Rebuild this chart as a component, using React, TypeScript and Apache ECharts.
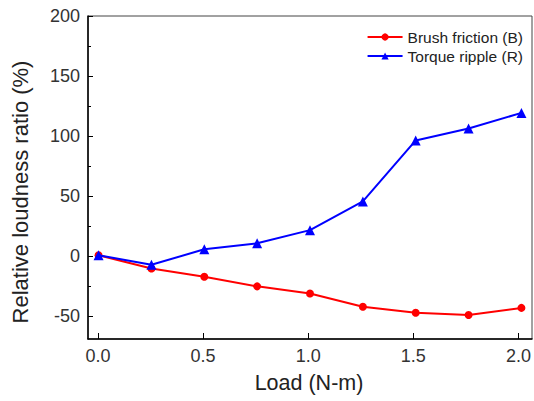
import React, { useEffect, useRef } from "react";
import * as echarts from "echarts";

const loads = [0, 0.25, 0.5, 0.75, 1.0, 1.25, 1.5, 1.75, 2.0];
const brushFriction = [0, -11, -18, -26, -32, -43, -48, -50, -44];
const torqueRipple = [0, -8, 5, 10, 21, 45, 96, 106, 119];
const seriesNames = ["Brush friction (B)", "Torque ripple (R)"];
const yTitle = "Relative loudness ratio (%)";
const xTitle = "Load (N-m)";

const FONT = "'Liberation Sans', Arial, sans-serif";

export default function App() {
  const ref = useRef<HTMLDivElement>(null);
  useEffect(() => {
    if (!ref.current) return;
    const chart = echarts.init(ref.current, undefined, { renderer: "svg" });
    const hiddenAxis = { show: false };
    const option: any = {
      animation: false,
      backgroundColor: "#ffffff",
      textStyle: { fontFamily: FONT },
      grid: [
        { left: 88, right: 2, top: 16, bottom: 62, show: true, borderColor: "#444", borderWidth: 1, backgroundColor: "transparent" },
        { left: 98, right: 13, top: 16, bottom: 62 },
        { left: 88, right: 2, top: 16, bottom: 85 },
      ],
      xAxis: [
        {
          gridIndex: 0, type: "value", min: -0.05, max: 2.05,
          axisLine: { show: true, onZero: false, lineStyle: { color: "#000", width: 1.5 } },
          axisTick: { show: false }, axisLabel: { show: false }, splitLine: { show: false },
        },
        {
          gridIndex: 1, type: "value", min: 0, max: 2, interval: 0.5,
          axisLine: { show: false, onZero: false },
          axisTick: { show: true, inside: true, length: 6, lineStyle: { color: "#000", width: 1 } },
          axisLabel: { show: true, margin: 8, fontSize: 18, color: "#333", fontFamily: FONT, formatter: (v: number) => v.toFixed(1) },
          splitLine: { show: false },
        },
        { gridIndex: 2, type: "value", min: 0, max: 1, ...hiddenAxis },
      ],
      yAxis: [
        {
          gridIndex: 0, type: "value", min: -70, max: 200,
          axisLine: { show: true, onZero: false, lineStyle: { color: "#000", width: 1.5 } },
          axisTick: { show: false }, axisLabel: { show: false }, splitLine: { show: false },
        },
        { gridIndex: 1, type: "value", min: 0, max: 1, ...hiddenAxis },
        {
          gridIndex: 2, type: "value", min: -50, max: 200, interval: 50,
          axisLine: { show: false, onZero: false },
          axisTick: { show: true, inside: true, length: 5, lineStyle: { color: "#000", width: 1 } },
          minorTick: { show: true, splitNumber: 2, length: 3, lineStyle: { color: "#000", width: 1 } },
          axisLabel: { show: true, margin: 8, fontSize: 18, color: "#333", fontFamily: FONT },
          splitLine: { show: false },
          minorSplitLine: { show: false },
        },
      ],
      legend: {
        right: 6, top: 24, orient: "vertical", itemWidth: 35, itemHeight: 9, itemGap: 3,
        textStyle: { fontSize: 15.5, color: "#222", fontFamily: FONT },
        data: [seriesNames[0], seriesNames[1]],
      },
      graphic: [
        {
          type: "text", x: 20, y: 192, rotation: Math.PI / 2,
          style: { text: yTitle, fontSize: 22, fill: "#222", fontFamily: FONT, align: "center", verticalAlign: "middle" },
        },
        {
          type: "text", x: 309, y: 383,
          style: { text: xTitle, fontSize: 21.5, fill: "#222", fontFamily: FONT, align: "center", verticalAlign: "middle" },
        },
      ],
      series: [
        {
          name: seriesNames[0], type: "line", xAxisIndex: 0, yAxisIndex: 0,
          data: loads.map((x, i) => [x, brushFriction[i]]),
          symbol: "circle", symbolSize: 8,
          lineStyle: { color: "#ff0000", width: 2 },
          itemStyle: { color: "#ff0000" },
          z: 2,
        },
        {
          name: seriesNames[1], type: "line", xAxisIndex: 0, yAxisIndex: 0,
          data: loads.map((x, i) => [x, torqueRipple[i]]),
          symbol: "triangle", symbolSize: 10,
          lineStyle: { color: "#0000ff", width: 2 },
          itemStyle: { color: "#0000ff" },
          z: 3,
        },
      ],
    };
    chart.setOption(option);
    return () => chart.dispose();
  }, []);
  return <div ref={ref} style={{ position: "fixed", left: 0, top: 0, width: 534, height: 401 }} />;
}
